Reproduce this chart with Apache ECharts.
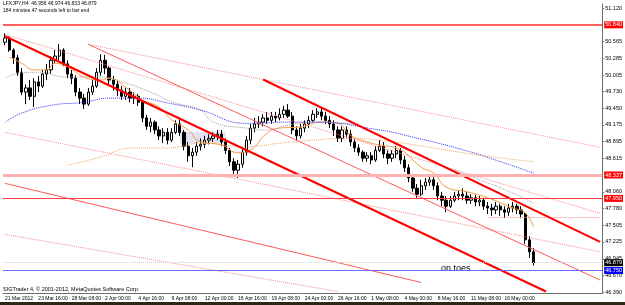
<!DOCTYPE html>
<html lang="en">
<head>
    <meta charset="UTF-8">
    <title>LFXJPY,H4</title>
    <script src="https://cdn.jsdelivr.net/npm/echarts@6/dist/echarts.min.js"></script>
    <style>
        html, body { margin: 0; padding: 0; background: #fff; }
    </style>
</head>
<body>
    <div id="chart" style="width: 625px; height: 305px;"></div>
    <script>
        // time labels, one every 8 candles
        const tickLabels = ['21 Mar 2012', '23 Mar 16:00', '28 Mar 08:00', '2 Apr 00:00', '4 Apr 16:00',
            '9 Apr 08:00', '12 Apr 00:00', '16 Apr 16:00', '19 Apr 08:00', '24 Apr 00:00', '26 Apr 16:00',
            '1 May 08:00', '4 May 00:00', '8 May 16:00', '11 May 08:00', '16 May 00:00'];

        // price axis labels
        const priceLabels = [51.12, 50.565, 50.285, 50.005, 49.73, 49.45, 49.175, 48.895, 48.615,
            48.06, 47.78, 47.505, 47.225, 46.945, 46.67, 46.39];

        // candles: [open, close, low, high]
        const candles = [
            [50.55, 50.62, 50.50, 50.70], [50.62, 50.42, 50.39, 50.65], [50.42, 50.29, 50.19, 50.45], [50.29, 50.05, 49.99, 50.34],
            [50.05, 49.72, 49.67, 50.12], [49.72, 49.79, 49.52, 49.85], [49.79, 49.65, 49.59, 49.92], [49.65, 49.89, 49.47, 49.95],
            [49.89, 49.82, 49.72, 49.99], [49.82, 50.02, 49.79, 50.09], [50.02, 50.09, 49.92, 50.19], [50.09, 50.25, 50.02, 50.32],
            [50.25, 50.32, 50.19, 50.42], [50.32, 50.42, 50.25, 50.52], [50.42, 50.19, 50.15, 50.45], [50.19, 50.02, 49.95, 50.25],
            [50.02, 49.95, 49.85, 50.09], [49.95, 49.72, 49.65, 50.00], [49.72, 49.62, 49.52, 49.79], [49.62, 49.52, 49.44, 49.69],
            [49.52, 49.72, 49.49, 49.79], [49.72, 49.82, 49.67, 49.92], [49.82, 50.05, 49.79, 50.12], [50.05, 50.25, 49.99, 50.35],
            [50.25, 50.12, 50.02, 50.34], [50.12, 49.92, 49.85, 50.15], [49.92, 49.85, 49.75, 49.99], [49.85, 49.75, 49.65, 49.92],
            [49.75, 49.65, 49.59, 49.82], [49.65, 49.72, 49.59, 49.79], [49.72, 49.62, 49.55, 49.79], [49.62, 49.65, 49.52, 49.72],
            [49.65, 49.55, 49.49, 49.69], [49.55, 49.29, 49.22, 49.59], [49.29, 49.15, 49.09, 49.34], [49.15, 49.22, 49.05, 49.29],
            [49.22, 49.09, 49.02, 49.25], [49.09, 48.99, 48.92, 49.15], [48.99, 49.05, 48.87, 49.12], [49.05, 48.92, 48.85, 49.12],
            [48.92, 49.05, 48.89, 49.12], [49.05, 49.19, 49.02, 49.25], [49.19, 49.05, 48.99, 49.29], [49.05, 48.82, 48.75, 49.09],
            [48.82, 48.66, 48.56, 48.89], [48.66, 48.72, 48.47, 48.79], [48.72, 48.82, 48.66, 48.89], [48.82, 48.85, 48.75, 48.95],
            [48.85, 48.92, 48.79, 48.99], [48.92, 48.95, 48.85, 49.02], [48.95, 48.99, 48.89, 49.05], [48.99, 49.02, 48.92, 49.09],
            [49.02, 48.89, 48.82, 49.09], [48.89, 48.75, 48.69, 48.95], [48.75, 48.56, 48.49, 48.79], [48.56, 48.42, 48.36, 48.62],
            [48.42, 48.52, 48.29, 48.59], [48.52, 48.72, 48.46, 48.79], [48.72, 48.92, 48.66, 48.99], [48.92, 49.12, 48.85, 49.19],
            [49.12, 49.19, 49.05, 49.29], [49.19, 49.22, 49.12, 49.32], [49.22, 49.29, 49.15, 49.35], [49.29, 49.25, 49.19, 49.39],
            [49.25, 49.32, 49.19, 49.39], [49.32, 49.29, 49.22, 49.39], [49.29, 49.35, 49.25, 49.45], [49.35, 49.42, 49.29, 49.49],
            [49.42, 49.32, 49.29, 49.52], [49.32, 49.09, 49.02, 49.39], [49.09, 48.99, 48.92, 49.15], [48.99, 49.12, 48.95, 49.19],
            [49.12, 49.19, 49.05, 49.25], [49.19, 49.25, 49.12, 49.32], [49.25, 49.35, 49.22, 49.42], [49.35, 49.39, 49.29, 49.45],
            [49.39, 49.32, 49.25, 49.47], [49.32, 49.25, 49.19, 49.39], [49.25, 49.19, 49.12, 49.32], [49.19, 49.09, 48.99, 49.25],
            [49.09, 48.95, 48.89, 49.15], [48.95, 49.09, 48.89, 49.15], [49.09, 49.02, 48.95, 49.15], [49.02, 48.89, 48.82, 49.09],
            [48.89, 48.79, 48.72, 48.95], [48.79, 48.72, 48.66, 48.85], [48.72, 48.62, 48.56, 48.75], [48.62, 48.66, 48.56, 48.72],
            [48.66, 48.59, 48.52, 48.72], [48.59, 48.75, 48.56, 48.82], [48.75, 48.82, 48.72, 48.92], [48.82, 48.69, 48.62, 48.89],
            [48.69, 48.62, 48.52, 48.75], [48.62, 48.69, 48.56, 48.75], [48.69, 48.75, 48.62, 48.82], [48.75, 48.59, 48.52, 48.79],
            [48.59, 48.46, 48.39, 48.66], [48.46, 48.29, 48.22, 48.52], [48.29, 48.12, 48.06, 48.36], [48.12, 48.02, 47.96, 48.19],
            [48.02, 48.16, 47.99, 48.26], [48.16, 48.22, 48.09, 48.29], [48.22, 48.26, 48.16, 48.34], [48.26, 48.16, 48.09, 48.32],
            [48.16, 47.99, 47.92, 48.22], [47.99, 47.92, 47.82, 48.06], [47.92, 47.82, 47.72, 47.99], [47.82, 47.92, 47.79, 47.99],
            [47.92, 47.99, 47.89, 48.06], [47.99, 48.02, 47.92, 48.09], [48.02, 47.99, 47.92, 48.12], [47.99, 47.92, 47.86, 48.06],
            [47.92, 47.96, 47.86, 48.02], [47.96, 47.89, 47.82, 48.01], [47.89, 47.92, 47.82, 47.99], [47.92, 47.82, 47.76, 47.96],
            [47.82, 47.79, 47.69, 47.89], [47.79, 47.76, 47.66, 47.86], [47.76, 47.82, 47.69, 47.89], [47.82, 47.76, 47.66, 47.86],
            [47.76, 47.72, 47.62, 47.82], [47.72, 47.79, 47.66, 47.86], [47.79, 47.82, 47.72, 47.89], [47.82, 47.76, 47.69, 47.86],
            [47.76, 47.69, 47.62, 47.82], [47.69, 47.26, 47.19, 47.72], [47.26, 47.06, 46.96, 47.32], [47.06, 46.879, 46.833, 47.12]
        ];

        // moving averages as [candle index, price]
        const maFast = [[1, 50.30], [4, 50.20], [7, 50.09], [10, 50.09], [12, 50.20], [15, 50.14], [19, 49.97], [23, 49.92],
            [25, 49.95], [29, 49.80], [33, 49.59], [37, 49.47], [40, 49.26], [44, 49.09], [47, 48.89], [52, 48.84], [56, 48.71],
            [59, 48.76], [63, 49.04], [66, 49.12], [71, 49.14], [76, 49.22], [80, 49.20], [83, 49.00], [88, 48.87], [90, 48.84],
            [95, 48.76], [100, 48.47], [103, 48.37], [106, 48.14], [111, 48.06], [116, 47.96], [122, 47.79], [125, 47.71], [127, 47.47]];
        const maMid = [[0, 49.95], [4, 50.04], [8, 50.05], [15, 49.97], [23, 49.97], [29, 49.87], [35, 49.72], [40, 49.56],
            [47, 49.42], [50, 49.22], [58, 49.12], [63, 49.09], [68, 49.17], [74, 49.22], [82, 49.20], [88, 49.05], [98, 48.71],
            [106, 48.47], [114, 48.26], [122, 48.04], [127, 47.87]];
        const maSlow = [[0, 49.22], [4, 49.37], [11, 49.50], [19, 49.55], [25, 49.62], [32, 49.62], [39, 49.54], [47, 49.42],
            [58, 49.20], [68, 49.22], [74, 49.22], [90, 49.09], [98, 48.97], [110, 48.76], [120, 48.54], [127, 48.37]];
        const maLong = [[15, 48.50], [22, 48.62], [31, 48.79], [39, 48.79], [47, 48.87], [58, 48.81], [66, 48.87], [74, 48.92],
            [82, 48.95], [90, 48.92], [103, 48.79], [114, 48.67], [127, 48.56]];

        // drawn trend lines: [[index, price], [index, price]]
        const thickLines = [[[0, 50.65], [130, 46.40]], [[62, 49.93], [143, 47.225]]];
        const thinLines = [[[20, 50.515], [143, 46.59]], [[0, 48.20], [100, 46.55]]];
        const dottedLines = [[[20, 50.515], [143, 48.80]], [[0, 50.68], [143, 47.70]], [[0, 49.05], [143, 47.06]],
            [[0, 47.35], [80, 46.40]], [[116, 47.64], [143, 47.64]]];

        // horizontal levels
        const levels = [
            { price: 50.840, color: '#ff5c5c', width: 2, type: 'solid', tag: '#ff0000' },
            { price: 48.337, color: '#ffb0b0', width: 3, type: 'solid', tag: '#ff0000' },
            { price: 47.950, color: '#ff3c3c', width: 1, type: 'solid', tag: '#ff0000' },
            { price: 46.879, color: '#cfcfcf', width: 1, type: 'dotted', tag: '#000000' },
            { price: 46.750, color: '#6a6aff', width: 1, type: 'solid', tag: '#0000ff' }
        ];

        const categories = [];
        for (let i = 0; i < 144; i++) categories.push(String(i));

        const chart = echarts.init(document.getElementById('chart'));
        const fnt = '"Liberation Sans", Arial, sans-serif';
        const showTick = (idx) => idx % 8 === 0 && idx / 8 < tickLabels.length;

        function seg(list, color, width, type) {
            return list.map(l => [
                { coord: l[0], lineStyle: { color: color, width: width, type: type } },
                { coord: l[1] }
            ]);
        }

        const markData = []
            .concat(seg(dottedLines, '#ff8a8a', 1, 'dotted'))
            .concat(seg(thinLines, '#ff5a5a', 1, 'solid'))
            .concat(seg(thickLines, '#ff0000', 2, 'solid'))
            .concat(levels.map(l => ({
                yAxis: l.price,
                lineStyle: { color: l.color, width: l.width, type: l.type },
                label: {
                    show: true, position: 'end', distance: 2,
                    formatter: l.price.toFixed(3), color: '#fff', backgroundColor: l.tag,
                    fontSize: 5.5, fontFamily: fnt, padding: [1, 1, 0, 1]
                }
            })));

        chart.setOption({
            animation: false,
            backgroundColor: '#fff',
            grid: { left: 3, right: 22, top: 4, bottom: 12 },
            xAxis: {
                type: 'category',
                data: categories,
                boundaryGap: true,
                axisLine: { lineStyle: { color: '#6e6e6e' } },
                axisTick: { interval: showTick, alignWithLabel: true, length: 2, lineStyle: { color: '#6e6e6e' } },
                axisLabel: {
                    interval: showTick, align: 'left', margin: 3, fontSize: 5, fontFamily: fnt, color: '#000',
                    formatter: (v, idx) => showTick(idx) ? tickLabels[idx / 8] : ''
                },
                splitLine: { show: false }
            },
            yAxis: {
                type: 'value',
                position: 'right',
                min: 46.375,
                max: 51.187,
                axisLine: { show: true, lineStyle: { color: '#6e6e6e' } },
                axisTick: { show: true, customValues: priceLabels, length: 2, lineStyle: { color: '#6e6e6e' } },
                axisLabel: {
                    customValues: priceLabels, margin: 3, fontSize: 5.5, fontFamily: fnt, color: '#000',
                    formatter: v => v.toFixed(3)
                },
                splitLine: { show: false }
            },
            series: [
                {
                    type: 'candlestick',
                    data: candles,
                    barWidth: 2.8,
                    itemStyle: { color: '#ffffff', color0: '#000000', borderColor: '#000000', borderColor0: '#000000', borderWidth: 1 },
                    markArea: {
                        silent: true,
                        itemStyle: { color: 'rgba(205,205,232,0.6)' },
                        data: [[{ coord: [42, 49.06] }, { coord: [53, 48.87] }]]
                    },
                    markLine: {
                        silent: true,
                        symbol: ['none', 'none'],
                        label: { show: false },
                        data: markData
                    }
                },
                { type: 'line', data: maFast, smooth: true, showSymbol: false, lineStyle: { color: '#f39a40', width: 1 } },
                { type: 'line', data: maMid, smooth: true, showSymbol: false, lineStyle: { color: '#a0a0a0', width: 1, type: 'dotted' } },
                { type: 'line', data: maSlow, smooth: true, showSymbol: false, lineStyle: { color: '#3030ff', width: 1, type: 'dotted' } },
                { type: 'line', data: maLong, smooth: true, showSymbol: false, lineStyle: { color: '#f5a85c', width: 1, type: 'dotted' } }
            ],
            graphic: [
                { type: 'text', left: 3, top: 1, style: { text: 'LFXJPY,H4  46.956 46.974 46.833 46.879', font: '5px ' + fnt, fill: '#000' } },
                { type: 'text', left: 3, top: 8, style: { text: '184 minutes 47 seconds left to bar end', font: '5px ' + fnt, fill: '#000' } },
                { type: 'text', left: 3, top: 286, style: { text: 'SIGTrader 4, \u00a9 2001-2012, MetaQuotes Software Corp.', font: '5.5px ' + fnt, fill: '#000' } },
                { type: 'text', left: 441, top: 264, style: { text: 'on toes', font: '9px ' + fnt, fill: '#000' } },
                { type: 'rect', shape: { x: 0, y: 302, width: 625, height: 3 }, style: { fill: '#2e2619' } }
            ]
        });
    </script>
</body>
</html>
